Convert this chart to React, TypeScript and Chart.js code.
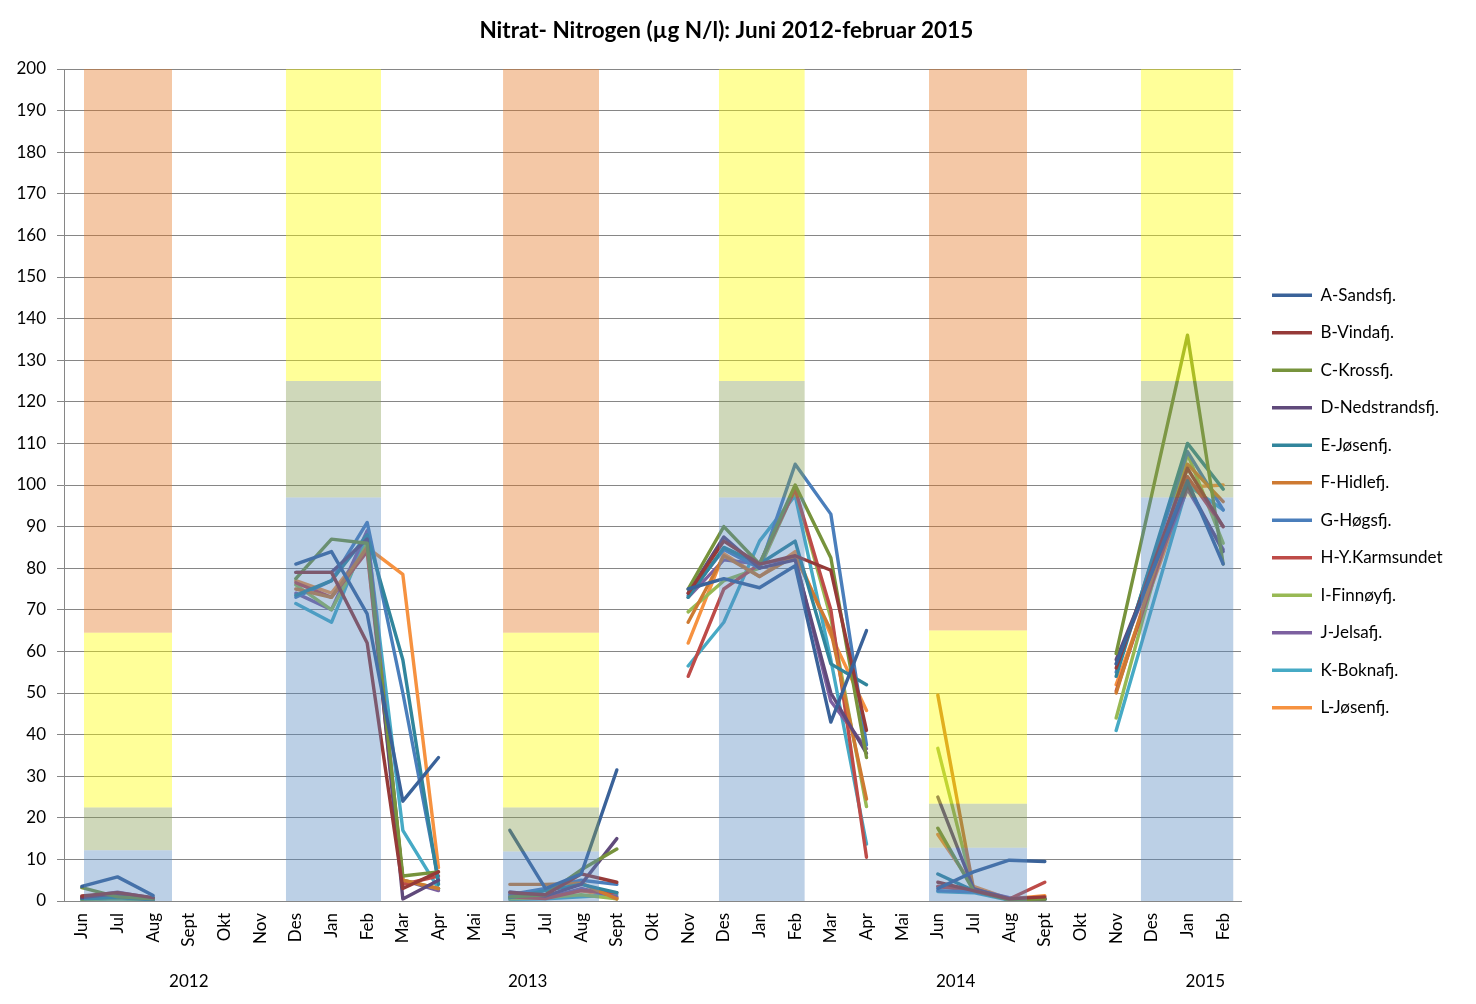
import React, { useEffect, useRef } from 'react';
import { Chart, registerables } from 'chart.js';

Chart.register(...registerables);

// ---------- data ----------
const months = [
  'Jun', 'Jul', 'Aug', 'Sept', 'Okt', 'Nov', 'Des', 'Jan', 'Feb', 'Mar', 'Apr', 'Mai',
  'Jun', 'Jul', 'Aug', 'Sept', 'Okt', 'Nov', 'Des', 'Jan', 'Feb', 'Mar', 'Apr', 'Mai',
  'Jun', 'Jul', 'Aug', 'Sept', 'Okt', 'Nov', 'Des', 'Jan', 'Feb',
];
const years = ['2012', '2013', '2014', '2015'];
// centre of each year group, in category units
const yearCenters = [3, 12.5, 24.5, 31.5];
// missing months that the lines are drawn across
const bridgedMonths = [30];

const seriesNames = [
  'A-Sandsfj.', 'B-Vindafj.', 'C-Krossfj.', 'D-Nedstrandsfj.', 'E-Jøsenfj.', 'F-Hidlefj.',
  'G-Høgsfj.', 'H-Y.Karmsundet', 'I-Finnøyfj.', 'J-Jelsafj.', 'K-Boknafj.', 'L-Jøsenfj.',
];
const seriesColors = [
  '#3A6299', '#963A38', '#77933C', '#604A7B', '#31859C', '#CE7A32',
  '#4A7EBB', '#BE4B48', '#98B954', '#7D60A0', '#46AAC5', '#F69240',
];

const _ = null;
const sA = [3.5, 5.8, 1.3, _, _, _, 81, 84, 69, 24, 34.5, _, 17, 3, 6.5, 31.5, _, 75, 77.5, 75.3, 80.6, 43, 65, _, 3, 7, 9.8, 9.5, _, 57, _, 101, 81];
const sB = [1.2, 2.0, 0.8, _, _, _, 79, 79, 62, 3, 7, _, 2, 1.5, 6.5, 4.5, _, 74, 86.5, 81, 83, 79.5, 41, _, 4.5, 2.5, 0.5, 1, _, 56, _, 104, 90];
const sC = [3.2, 1.0, 0.5, _, _, _, 77.5, 87, 86, 6, 7, _, 1, 1.5, 7.5, 12.5, _, 75, 90, 81, 100, 82.5, 34.5, _, 17.5, 2.5, 0.3, 0.5, _, 59.5, _, 136, 81];
const sD = [0.8, 1.8, 0.6, _, _, _, 79, 79, 87, 0.5, 5, _, 2.2, 1.2, 4, 15, _, 74, 87.5, 80, 82, 50, 35.5, _, 25, 3, 0.5, 0.5, _, 58, _, 100, 84];
const sE = [0.5, 0.8, 0.3, _, _, _, 73.5, 77, 88, 58, 4, _, 0.8, 2.5, 4, 2, _, 73, 85, 81, 86.5, 57, 52, _, 6.5, 2.5, 0.3, 0.5, _, 54, _, 110, 99];
const sF = [0.6, 1.0, 0.4, _, _, _, 75, 73, 85, 5, 3, _, 4, 4, 4.3, 0.5, _, 67, 83, 78, 83, 65, 24.5, _, 49.5, 3, 0.3, 0.5, _, 50, _, 105, 96];
const sG = [0.9, 1.2, 0.5, _, _, _, 73, 77, 91, 50, 5, _, 1.5, 3, 5, 4, _, 73.5, 84.5, 80, 105, 93, 37.5, _, 2.5, 2.2, 0.5, 0.7, _, 55, _, 108, 94];
const sH = [1.0, 1.5, 0.6, _, _, _, 76.5, 73, 84, 4, 6, _, 1, 0.6, 2.5, 2, _, 54, 75, 81, 99, 70, 10.5, _, 3.5, 2.5, 0.5, 4.5, _, 50.5, _, 102, 90];
const sI = [0.4, 0.6, 0.3, _, _, _, 76, 70, 86, 5, 3, _, 0.5, 0.8, 1.5, 0.5, _, 69.5, 77, 80, 99, 68, 22.7, _, 36.7, 2.5, 0.3, 0.4, _, 44, _, 107.5, 86];
const sJ = [1.0, 2.1, 0.7, _, _, _, 74, 70, 89, 5, 2.5, _, 1.5, 0.7, 3, 1, _, 73, 82, 81, 82.5, 48, 36.6, _, 3.5, 2.8, 0.8, 0.5, _, 57, _, 99, 84.5];
const sK = [0.3, 0.5, 0.2, _, _, _, 71.5, 67, 88, 17, 3, _, 0.4, 0.5, 1, 1.5, _, 56.5, 67, 86.5, 97.5, 58, 13.7, _, 2.3, 2, 0.2, 0.3, _, 41, _, 100, 94];
const sL = [0.5, 0.7, 0.3, _, _, _, 77, 74, 85, 78.5, 8, _, 0.5, 1, 2.5, 0.8, _, 62, 83.5, 78, 84, 64, 45.8, _, 16, 3.5, 0.5, 1.3, _, 52, _, 99.5, 100];
const seriesValues = [sA, sB, sC, sD, sE, sF, sG, sH, sI, sJ, sK, sL];

// background classification bands (x in category units, y in µg N/l)
const bandStart = [0.06, 5.72, 11.81, 17.86, 23.75, 29.69];
const bandEnd = [2.53, 8.39, 14.5, 20.27, 26.5, 32.29];
const bandBlueTop = [12.2, 97, 11.9, 97, 12.8, 97];
const bandGreenTop = [22.5, 125, 22.5, 125, 23.4, 125];
const bandYellowTop = [64.5, 200, 64.5, 200, 65, 200];
const bandOrangeTop = [200, _, 200, _, 200, _];

const BLUE = 'rgba(88,138,193,0.4)';
const GREEN = 'rgba(135,158,83,0.4)';
const YELLOW = 'rgba(255,255,0,0.4)';
const ORANGE = 'rgba(228,118,33,0.4)';

const TITLE = 'Nitrat- Nitrogen (µg N/l): Juni 2012-februar 2015';
const FONT = 'Lato, "DejaVu Sans", sans-serif';

export default function App() {
  const ref = useRef<HTMLCanvasElement>(null);

  useEffect(() => {
    const canvas = ref.current;
    if (!canvas) return;

    const W = 1476;
    const plotRight = 1241;
    const legendLineStart = 1272;
    const legendPad = 20.5;
    const lineW = 40;
    const fontSize = 17;

    const mctx = document.createElement('canvas').getContext('2d')!;
    mctx.font = `${fontSize}px ${FONT}`;
    const textW = Math.max(...seriesNames.map((n) => mctx.measureText(n).width));
    const legendLeft = legendLineStart - legendPad;
    const legendWidth = legendPad + lineW + fontSize / 2 + textW + 10;
    const rightPad = Math.max(0, W - legendLeft - legendWidth);
    const spacer = legendLeft - plotRight;

    const datasets: any[] = [];
    seriesValues.forEach((vals, i) => {
      const pts = vals
        .map((v, k) => ({ x: k, y: v }))
        .filter((p) => !bridgedMonths.includes(p.x));
      datasets.push({
        label: seriesNames[i],
        data: pts,
        borderColor: seriesColors[i],
        backgroundColor: seriesColors[i],
        borderWidth: 3.4,
        pointRadius: 0,
        pointHoverRadius: 0,
        tension: 0,
        spanGaps: false,
        borderJoinStyle: 'round',
        borderCapStyle: 'round',
        fill: false,
        xAxisID: 'x2',
        yAxisID: 'y',
        order: 1,
      });
    });

    bandStart.forEach((s, b) => {
      const layers: [number, number, string][] = [
        [0, bandBlueTop[b], BLUE],
        [bandBlueTop[b], bandGreenTop[b], GREEN],
        [bandGreenTop[b], bandYellowTop[b], YELLOW],
      ];
      const ot = bandOrangeTop[b];
      if (ot != null) layers.push([bandYellowTop[b], ot, ORANGE]);
      layers.forEach(([lo, hi, col]) => {
        datasets.push({
          label: '',
          data: [
            { x: s, y: hi },
            { x: bandEnd[b], y: hi },
          ],
          xAxisID: 'x2',
          yAxisID: 'y',
          borderWidth: 0,
          borderColor: 'rgba(0,0,0,0)',
          pointRadius: 0,
          pointHoverRadius: 0,
          fill: { value: lo },
          backgroundColor: col,
          order: 0,
        });
      });
    });

    const tickFont = { size: fontSize, family: FONT };

    const chart = new Chart(canvas, {
      type: 'line',
      data: { labels: months, datasets },
      options: {
        responsive: false,
        animation: false,
        events: [],
        layout: { padding: { left: 0, right: rightPad, top: 0, bottom: 1 } },
        plugins: {
          title: {
            display: true,
            text: TITLE,
            color: '#000',
            font: { size: 22.5, weight: 'bold', family: FONT },
            padding: { top: 17.5, bottom: 24.5 },
          },
          legend: {
            display: true,
            position: 'right',
            align: 'center',
            labels: {
              usePointStyle: true,
              pointStyle: 'line',
              pointStyleWidth: lineW,
              padding: legendPad,
              color: '#000',
              font: { size: fontSize, family: FONT },
              filter: (item: any) => item.datasetIndex < seriesNames.length,
            },
          },
          tooltip: { enabled: false },
        },
        scales: {
          x: {
            type: 'category',
            position: 'bottom',
            offset: true,
            min: 0,
            max: months.length - 1,
            grid: { display: false, drawTicks: false },
            border: { display: true, color: '#868686', width: 1 },
            ticks: {
              autoSkip: false,
              minRotation: 90,
              maxRotation: 90,
              padding: 12,
              color: '#000',
              font: tickFont,
            },
            afterFit: (s: any) => {
              s.height = 62;
            },
          },
          x2: {
            type: 'linear',
            position: 'bottom',
            min: -0.5,
            max: months.length - 0.5,
            grid: { display: false, drawTicks: false },
            border: { display: false },
            afterBuildTicks: (s: any) => {
              s.ticks = yearCenters.map((v) => ({ value: v }));
            },
            ticks: {
              autoSkip: false,
              maxRotation: 0,
              minRotation: 0,
              padding: 8,
              color: '#000',
              font: tickFont,
              callback: (_v: any, i: number) => years[i],
            },
            afterFit: (s: any) => {
              s.height = 40;
            },
          },
          y: {
            type: 'linear',
            position: 'left',
            min: 0,
            max: 200,
            ticks: { stepSize: 10, padding: 11, color: '#000', font: tickFont },
            grid: { color: '#868686', lineWidth: 1, tickLength: 7 },
            border: { display: true, color: '#868686', width: 1 },
            afterFit: (s: any) => {
              s.width = 64;
            },
          },
          yr: {
            type: 'linear',
            position: 'right',
            display: true,
            grid: { display: false, drawTicks: false },
            border: { display: false },
            ticks: { display: false },
            afterFit: (s: any) => {
              s.width = spacer;
            },
          },
        },
      } as any,
    });

    return () => {
      chart.destroy();
    };
  }, []);

  return (
    <div style={{ position: 'absolute', left: 0, top: 0, width: 1476, height: 1004, background: '#fff' }}>
      <canvas ref={ref} width={1476} height={1004} style={{ display: 'block' }} />
    </div>
  );
}
